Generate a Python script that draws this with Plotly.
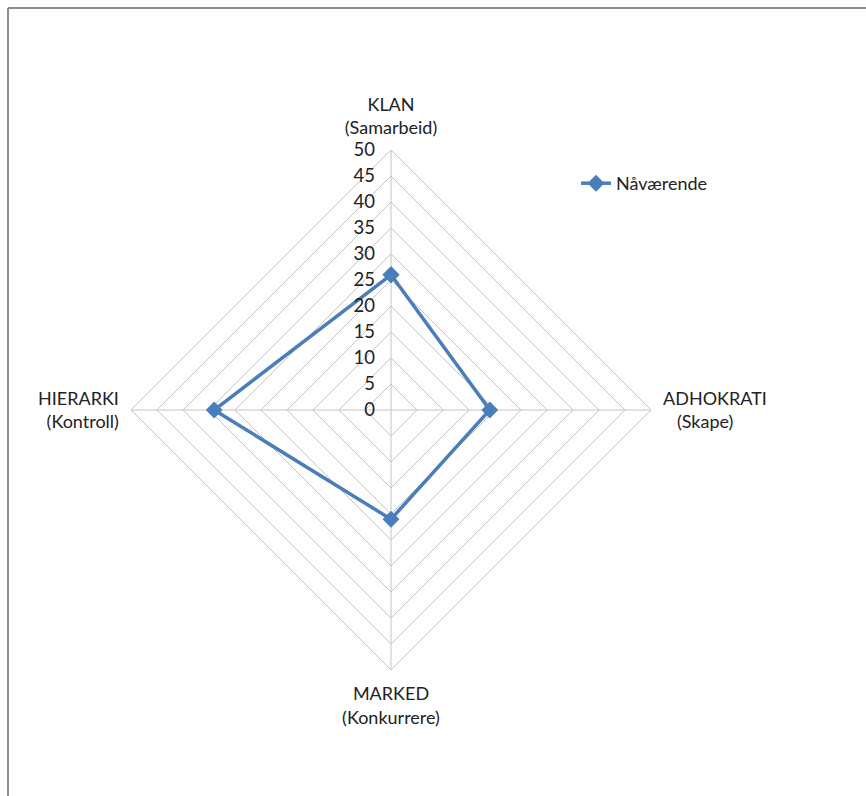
import plotly.graph_objects as go

# Organisational culture profile (Competing Values Framework)
categories = ["KLAN<br>(Samarbeid)",
              "ADHOKRATI<br>\u00a0\u00a0\u00a0(Skape)",
              "MARKED<br>(Konkurrere)",
              "HIERARKI<br>(Kontroll)"]
current_values = [26, 19, 21, 34]
series_name = "Nåværende"
radial_ticks = [0, 5, 10, 15, 20, 25, 30, 35, 40, 45, 50]

W, H = 866, 796
cx, cy, R = 391, 410, 260
FONT = "Lato, Calibri, sans-serif"
GRID = "#c4c4c4"
BLUE = "#4a7ebb"
TEXT = "#222222"

fig = go.Figure()
fig.add_trace(go.Scatterpolar(
    r=current_values + current_values[:1],
    theta=categories + categories[:1],
    mode="lines+markers",
    name=series_name,
    line=dict(color=BLUE, width=3.5),
    marker=dict(symbol="diamond", size=13, color=BLUE),
))

fig.update_layout(
    width=W, height=H,
    margin=dict(l=0, r=0, t=0, b=0),
    paper_bgcolor="white",
    font=dict(family=FONT, size=18, color=TEXT),
    showlegend=True,
    legend=dict(x=576 / W, y=1 - 165 / H, xanchor="left", yanchor="top",
                font=dict(size=18, family=FONT, color=TEXT), bgcolor="rgba(0,0,0,0)"),
    polar=dict(
        domain=dict(x=[(cx - R) / W, (cx + R) / W],
                    y=[(H - cy - R) / H, (H - cy + R) / H]),
        gridshape="linear",
        bgcolor="white",
        radialaxis=dict(
            range=[0, 50], tickvals=radial_ticks, angle=90, tickangle=90,
            side="counterclockwise", showline=False,
            ticks="outside", ticklen=9, tickcolor="rgba(0,0,0,0)",
            gridcolor=GRID, gridwidth=1,
            tickfont=dict(size=18.5, family=FONT, color=TEXT),
        ),
        angularaxis=dict(
            rotation=90, direction="clockwise", categoryorder="array",
            categoryarray=categories,
            showline=True, linecolor=GRID, linewidth=1,
            gridcolor=GRID, gridwidth=1,
            ticks="outside", ticklen=8, tickcolor="rgba(0,0,0,0)",
            tickfont=dict(size=18, family=FONT, color=TEXT),
        ),
    ),
    shapes=[
        dict(type="line", xref="paper", yref="paper", x0=8 / W, x1=8 / W, y0=0, y1=1 - 8 / H,
             line=dict(color="#8c8c8c", width=2)),
        dict(type="line", xref="paper", yref="paper", x0=8 / W, x1=1, y0=1 - 8 / H, y1=1 - 8 / H,
             line=dict(color="#8c8c8c", width=2)),
    ],
)

fig.write_html("out.html")
